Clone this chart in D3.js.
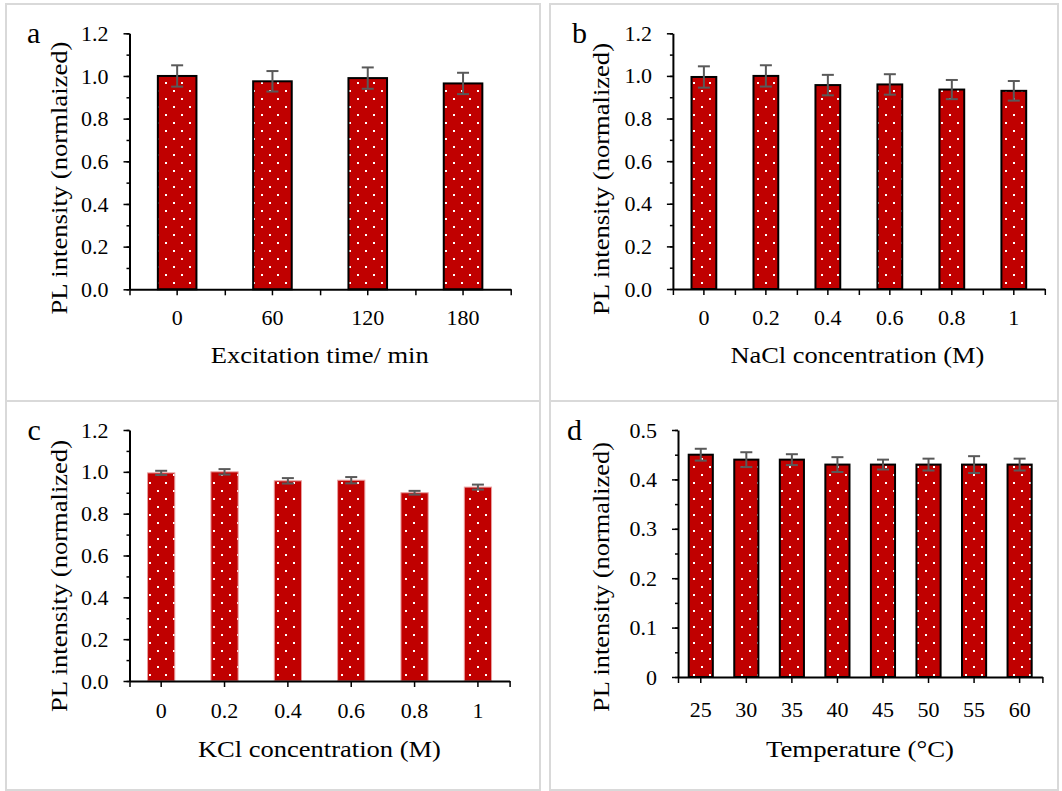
<!DOCTYPE html>
<html>
<head>
<meta charset="utf-8">
<script src="https://cdn.jsdelivr.net/npm/d3@7"></script>
<style>
  html, body { margin: 0; padding: 0; background: #fff; }
  svg { display: block; }
  svg text { font-family: "Liberation Serif", "Times New Roman", Times, serif; fill: #000; }
</style>
</head>
<body>
<svg width="1062" height="791"></svg>
<script>
// values
const timeCats = ['0', '60', '120', '180']
const timeVals = [1.0, 0.975, 0.99, 0.965]
const timeErr = [0.05, 0.048, 0.05, 0.05]

const naclCats = ['0', '0.2', '0.4', '0.6', '0.8', '1']
const naclVals = [0.995, 1.0, 0.957, 0.96, 0.936, 0.93]
const naclErr = [0.05, 0.05, 0.048, 0.048, 0.045, 0.046]

const kclCats = ['0', '0.2', '0.4', '0.6', '0.8', '1']
const kclVals = [0.995, 1.0, 0.957, 0.96, 0.9, 0.927]
const kclErr = [0.01, 0.013, 0.013, 0.015, 0.009, 0.012]

const tempCats = ['25', '30', '35', '40', '45', '50', '55', '60']
const tempVals = [0.45, 0.44, 0.44, 0.43, 0.43, 0.43, 0.43, 0.43]
const tempErr = [0.012, 0.015, 0.011, 0.015, 0.01, 0.012, 0.017, 0.012]

const yTicks12 = [0, 0.2, 0.4, 0.6, 0.8, 1.0, 1.2]
const yTicks05 = [0, 0.1, 0.2, 0.3, 0.4, 0.5]

const RED = '#c00000'

const svg = d3.select('svg')

// dotted fill used by every bar
const pat = svg.append('defs').append('pattern')
  .attr('id', 'dots')
  .attr('patternUnits', 'userSpaceOnUse')
  .attr('width', 16).attr('height', 16)
pat.append('rect').attr('width', 16).attr('height', 16).attr('fill', RED)
pat.append('rect').attr('x', 5).attr('y', 2).attr('width', 2).attr('height', 2).attr('fill', '#fff')
pat.append('rect').attr('x', 13).attr('y', 10).attr('width', 2).attr('height', 2).attr('fill', '#fff')

// panel frames
const frames = [[6, 4, 534, 397], [550, 4, 508, 397], [6, 401, 534, 389], [550, 401, 508, 389]]
svg.selectAll('rect.frame').data(frames).join('rect')
  .attr('class', 'frame')
  .attr('x', (d) => d[0]).attr('y', (d) => d[1])
  .attr('width', (d) => d[2]).attr('height', (d) => d[3])
  .attr('fill', 'none').attr('stroke', '#d9d9d9').attr('stroke-width', 2)

const panel = (p) => {
  const g = svg.append('g')
  const x = d3.scaleBand().domain(p.cats).range([p.left, p.right])
  const xl = d3.scaleLinear().domain([0, p.cats.length]).range([p.left, p.right])
  const y = d3.scaleLinear().domain([0, p.yMax]).range([p.bottom, p.top])
  const bw = x.bandwidth() * p.ratio
  const rows = p.cats.map((c, i) => ({ c, v: p.vals[i], e: p.err[i] }))

  g.selectAll('rect.bar').data(rows).join('rect')
    .attr('class', 'bar')
    .attr('x', (d) => x(d.c) + (x.bandwidth() - bw) / 2)
    .attr('y', (d) => y(d.v))
    .attr('width', bw)
    .attr('height', (d) => y(0) - y(d.v))
    .attr('fill', 'url(#dots)')
    .attr('stroke', p.outline ? '#000' : '#e8a0a0')
    .attr('stroke-width', p.outline ? 2 : 1)

  // error bars
  const eb = g.selectAll('g.err').data(rows).join('g')
    .attr('class', 'err')
    .attr('stroke', '#595959').attr('stroke-width', 2)
  const cx = (d) => x(d.c) + x.bandwidth() / 2
  eb.append('line')
    .attr('x1', cx).attr('x2', cx)
    .attr('y1', (d) => y(d.v - d.e)).attr('y2', (d) => y(d.v + d.e))
  eb.append('line')
    .attr('x1', (d) => cx(d) - 6).attr('x2', (d) => cx(d) + 6)
    .attr('y1', (d) => y(d.v + d.e)).attr('y2', (d) => y(d.v + d.e))
  eb.append('line')
    .attr('x1', (d) => cx(d) - 6).attr('x2', (d) => cx(d) + 6)
    .attr('y1', (d) => y(d.v - d.e)).attr('y2', (d) => y(d.v - d.e))

  // y axis: minor ticks then labelled major ticks
  const minor = d3.range(0, p.yMax + p.minor / 2, p.minor)
  g.append('g').attr('transform', `translate(${p.left},0)`)
    .call(d3.axisLeft(y).tickValues(minor).tickSize(3).tickSizeOuter(0).tickFormat(''))
    .call((a) => a.selectAll('line').attr('stroke-width', 1.5))
    .call((a) => a.select('.domain').remove())
  g.append('g').attr('transform', `translate(${p.left},0)`)
    .call(d3.axisLeft(y).tickValues(p.yTicks).tickSize(6).tickSizeOuter(0)
      .tickPadding(15).tickFormat(p.fmt))
    .attr('font-family', null).attr('font-size', 22)
    .call((a) => a.selectAll('line').attr('stroke-width', 1.5))
    .call((a) => a.select('.domain').attr('stroke-width', 2))

  // x axis: ticks at bar centres with labels, plus boundary ticks
  const bounds = p.bounds ? d3.range(p.cats.length + 1) : [0, p.cats.length]
  g.append('g').attr('transform', `translate(0,${p.bottom})`)
    .call(d3.axisBottom(xl).tickValues(bounds).tickSize(6).tickSizeOuter(0).tickFormat(''))
    .call((a) => a.selectAll('line').attr('stroke-width', 1.5))
    .call((a) => a.select('.domain').remove())
  g.append('g').attr('transform', `translate(0,${p.bottom})`)
    .call(d3.axisBottom(x).tickSize(6).tickSizeOuter(0).tickPadding(p.xPad))
    .attr('font-family', null).attr('font-size', 22)
    .call((a) => a.selectAll('line').attr('stroke-width', 1.5))
    .call((a) => a.select('.domain').attr('stroke-width', 2))

  // titles
  g.append('text')
    .attr('x', p.xt[0]).attr('y', p.xt[1])
    .attr('text-anchor', 'middle')
    .attr('font-size', 24)
    .attr('textLength', p.xt[2]).attr('lengthAdjust', 'spacingAndGlyphs')
    .text(p.xTitle)
  g.append('text')
    .attr('transform', `translate(${p.yt[0]},${p.yt[1]}) rotate(-90)`)
    .attr('text-anchor', 'middle')
    .attr('dominant-baseline', 'central')
    .attr('font-size', 24)
    .attr('textLength', p.yt[2]).attr('lengthAdjust', 'spacingAndGlyphs')
    .text(p.yTitle)
  g.append('text')
    .attr('x', p.letter[0]).attr('y', p.letter[1])
    .attr('font-size', 30)
    .text(p.letter[2])
}

const f1 = d3.format('.1f')
const f05 = (d) => (d === 0 ? '0' : d3.format('.1f')(d))

panel({
  cats: timeCats, vals: timeVals, err: timeErr,
  left: 129.5, right: 510.7, top: 33.3, bottom: 289.3,
  yMax: 1.2, yTicks: yTicks12, minor: 0.1, fmt: f1,
  ratio: 0.405, outline: true, bounds: true, xPad: 14,
  xTitle: 'Excitation time/ min', xt: [319.7, 363, 218],
  yTitle: 'PL intensity (normlaized)', yt: [58.5, 178, 273],
  letter: [27, 43, 'a'],
})

panel({
  cats: naclCats, vals: naclVals, err: naclErr,
  left: 672.9, right: 1044.8, top: 33.3, bottom: 289,
  yMax: 1.2, yTicks: yTicks12, minor: 0.1, fmt: f1,
  ratio: 0.4, outline: true, bounds: true, xPad: 14,
  xTitle: 'NaCl concentration (M)', xt: [857.4, 363, 254],
  yTitle: 'PL intensity (normalized)', yt: [601.3, 179, 272],
  letter: [572, 43, 'b'],
})

panel({
  cats: kclCats, vals: kclVals, err: kclErr,
  left: 129.5, right: 509.6, top: 430, bottom: 681,
  yMax: 1.2, yTicks: yTicks12, minor: 0.1, fmt: f1,
  ratio: 0.43, outline: false, bounds: false, xPad: 15,
  xTitle: 'KCl concentration (M)', xt: [319.4, 757, 243],
  yTitle: 'PL intensity (normalized)', yt: [58.5, 576, 272],
  letter: [27.5, 440, 'c'],
})

panel({
  cats: tempCats, vals: tempVals, err: tempErr,
  left: 678, right: 1042.4, top: 430, bottom: 677,
  yMax: 0.5, yTicks: yTicks05, minor: 0.05, fmt: f05,
  ratio: 0.53, outline: true, bounds: false, xPad: 18,
  xTitle: 'Temperature (°C)', xt: [860, 757, 188],
  yTitle: 'PL intensity (normalized)', yt: [601.3, 577, 270],
  letter: [567, 440, 'd'],
})
</script>
</body>
</html>
